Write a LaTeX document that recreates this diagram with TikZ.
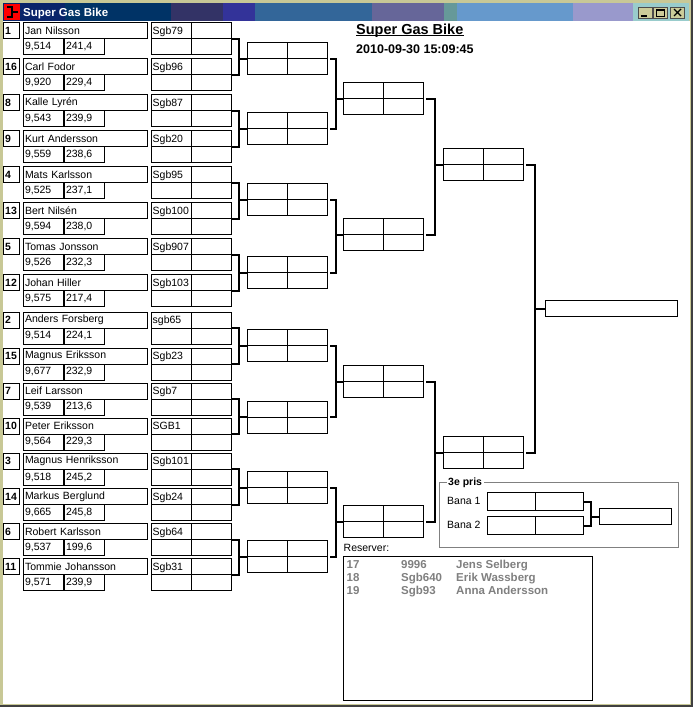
\documentclass[tikz,border=0pt]{standalone}
\usepackage{fontspec}
\setmainfont{Liberation Sans}
\usetikzlibrary{positioning}

\definecolor{frame}{RGB}{200,200,150}
\definecolor{edge}{RGB}{64,64,64}
\definecolor{btn}{RGB}{204,204,153}
\definecolor{tbA}{RGB}{10,36,106}
\definecolor{tbB}{RGB}{0,51,102}
\definecolor{tbC}{RGB}{51,51,102}
\definecolor{tbD}{RGB}{51,51,153}
\definecolor{tbE}{RGB}{51,102,153}
\definecolor{tbF}{RGB}{102,102,153}
\definecolor{tbG}{RGB}{102,153,153}
\definecolor{tbH}{RGB}{102,153,204}
\definecolor{tbI}{RGB}{153,153,204}
\definecolor{tbJ}{RGB}{153,204,204}

\newcommand\cellfont{\fontsize{10.5}{12}\selectfont}
\newcommand\listfont{\fontsize{11.5}{13}\selectfont\bfseries}

\tikzset{
  cell/.style={draw, line width=1pt, anchor=north west, inner xsep=1.5pt, inner ysep=0pt,
               minimum height=16pt, align=left, font=\cellfont},
  seed/.style={cell, text width=13pt, line width=1.4pt, font=\cellfont\bfseries},
  namebox/.style={cell, text width=121pt},
  numbox/.style={cell, text width=37pt},
  quad/.style={draw, line width=1pt, anchor=north west, inner sep=0pt,
               minimum width=80pt, minimum height=32pt,
               path picture={\draw[line width=1pt]
                 (path picture bounding box.north) -- (path picture bounding box.south)
                 (path picture bounding box.west) -- (path picture bounding box.east);}},
  pair/.style={draw, line width=1pt, anchor=north west, inner sep=0pt,
               minimum width=96pt, minimum height=18pt,
               path picture={\draw[line width=1pt]
                 (path picture bounding box.north) -- (path picture bounding box.south);}},
  single/.style={draw, line width=1pt, anchor=north west, inner sep=0pt, minimum height=16pt},
  tag/.style={anchor=west, inner sep=0pt, font=\cellfont},
  row/.style={anchor=base west, inner sep=0pt, text=gray, font=\listfont},
  riser/.style={line width=2pt},
}

% upper, lower, winner, distance of the riser, gap after the box
\newcommand\bracket[5]{%
  \draw[riser] (#3.west) -- ++(-#4,0) coordinate (v);
  \draw[riser] ([xshift=#5pt]#1.east) -- (#1.east -| v) -- (#2.east -| v) -- ([xshift=#5pt]#2.east);
}

\begin{document}
\begin{tikzpicture}[x=1pt, y=-1pt]
  \useasboundingbox (0,0) rectangle (693,707);

  % window
  \fill[frame] (0,0) rectangle (693,707);
  \fill[white] (3,21) rectangle (690,704);
  \fill[edge] (691,0) rectangle (693,707);
  \fill[edge] (0,705) rectangle (693,707);
  \foreach \a/\b/\c in {3/65/tbA, 65/171/tbB, 171/223/tbC, 223/255/tbD, 255/372/tbE,
                        372/444/tbF, 444/457/tbG, 457/573/tbH, 573/633/tbI, 633/689/tbJ}
    \fill[\c] (\a,3) rectangle (\b,21);
  \fill[red] (4,4) rectangle (20,20);
  \draw[line width=1.5pt] (7,7) -- (12,7) -- (12,17) -- (7,17) (12,12) -- (18,12);
  \node[anchor=base west, inner sep=0pt, text=white, font=\fontsize{11.5}{13}\selectfont\bfseries]
    (wintitle) at (23,16.3) {Super Gas Bike};
  \foreach \a [count=\k] in {638,653,670}
    \draw[fill=btn, draw=black!70] (\a,7) rectangle ++(14.5,11) coordinate (btn\k);
  \fill (641,15) rectangle (647,17);
  \draw[line width=1pt] (656.5,9.5) rectangle (664.5,16.5);
  \draw[line width=1pt] (656.5,10) -- (664.5,10);
  \draw[line width=1.4pt] (674,9) -- (681,16) (681,9) -- (674,16);

  % heading
  \node[anchor=base west, inner sep=0pt, font=\fontsize{14.5}{16}\selectfont\bfseries]
    (hdr) at (356,34.3) {Super Gas Bike};
  \draw[line width=1pt] ([yshift=-1.5pt]hdr.base west) -- ([yshift=-1.5pt]hdr.base east);
  \node[anchor=base west, inner sep=0pt, font=\fontsize{12.5}{14}\selectfont\bfseries]
    (stamp) at (356,53) {2010-09-30 15:09:45};

  % riders
  \foreach \sd/\ty/\nm/\tm/\spd/\bk [count=\i] in {
      1/22/Jan Nilsson/{9,514}/{241,4}/Sgb79,
      16/58/Carl Fodor/{9,920}/{229,4}/Sgb96,
      8/94/Kalle Lyrén/{9,543}/{239,9}/Sgb87,
      9/130/Kurt Andersson/{9,559}/{238,6}/Sgb20,
      4/166/Mats Karlsson/{9,525}/{237,1}/Sgb95,
      13/202/Bert Nilsén/{9,594}/{238,0}/Sgb100,
      5/238/Tomas Jonsson/{9,526}/{232,3}/Sgb907,
      12/274/Johan Hiller/{9,575}/{217,4}/Sgb103,
      2/311.5/Anders Forsberg/{9,514}/{224,1}/sgb65,
      15/347.5/Magnus Eriksson/{9,677}/{232,9}/Sgb23,
      7/382.5/Leif Larsson/{9,539}/{213,6}/Sgb7,
      10/417.5/Peter Eriksson/{9,564}/{229,3}/SGB1,
      3/452.5/Magnus Henriksson/{9,518}/{245,2}/Sgb101,
      14/488/Markus Berglund/{9,665}/{245,8}/Sgb24,
      6/523/Robert Karlsson/{9,537}/{199,6}/Sgb64,
      11/558/Tommie Johansson/{9,571}/{239,9}/Sgb31}
  {
    \node[seed]    (s\i) at (3,\ty)       {\sd};
    \node[namebox] (n\i) at (23,\ty)      {\nm};
    \node[numbox]  (t\i) at (23,\ty+16)   {\tm};
    \node[numbox, right=0pt of t\i] (v\i) {\spd};
    \node[quad]    (b\i) at (151,\ty)     {};
    \node[tag, anchor=base west] (bt\i) at ([xshift=1.5pt,yshift=-12pt]b\i.north west) {\bk};
  }

  % heats
  \foreach \y [count=\k] in {42,112,183,256,329,400.5,471,540}
    \node[quad] (ra\k) at (247,\y) {};
  \foreach \y [count=\k] in {82,218,365,505}
    \node[quad] (rb\k) at (343,\y) {};
  \node[quad] (rc1) at (443,148) {};
  \node[quad] (rc2) at (443,436) {};
  \node[single, minimum width=132pt] (fin) at (545,300) {};

  \foreach \u/\l/\w/\d/\g in {b1/b2/ra1/8/0, b3/b4/ra2/8/0, b5/b6/ra3/8/0, b7/b8/ra4/8/0,
                              b9/b10/ra5/8/0, b11/b12/ra6/8/0, b13/b14/ra7/8/0, b15/b16/ra8/8/0,
                              ra1/ra2/rb1/7/2, ra3/ra4/rb2/7/2, ra5/ra6/rb3/7/2, ra7/ra8/rb4/7/2,
                              rb1/rb2/rc1/8/2, rb3/rb4/rc2/8/2, rc1/rc2/fin/10/2}
    \bracket{\u}{\l}{\w}{\d}{\g};

  % 3e pris
  \draw[gray, line width=1pt] (439,482) rectangle (678,547);
  \node[anchor=west, fill=white, inner xsep=1.5pt, inner ysep=0pt, font=\cellfont\bfseries]
    (prize) at (446.5,483) {3e pris};
  \node[tag] (bana1) at (447,500.5) {Bana 1};
  \node[tag] (bana2) at (447,524.5) {Bana 2};
  \node[pair] (p1) at (487,492) {};
  \node[pair] (p2) at (487,516) {};
  \node[single, minimum width=72pt] (third) at (599,508) {};
  \bracket{p1}{p2}{third}{8}{0}

  % reserves
  \node[tag] (reslbl) at (343.5,547.5) {Reserver:};
  \node[draw, line width=1pt, anchor=north west, inner sep=0pt,
        minimum width=249pt, minimum height=144pt] (reslist) at (343,556) {};
  \foreach \n/\b/\p [count=\r] in {17/9996/Jens Selberg, 18/Sgb640/Erik Wassberg, 19/Sgb93/Anna Andersson}
  {
    \node[row] (rn\r) at (346.5,555.3+13*\r) {\n};
    \node[row] (rk\r) at (401,555.3+13*\r) {\b};
    \node[row] (rp\r) at (456,555.3+13*\r) {\p};
  }
\end{tikzpicture}
\end{document}
